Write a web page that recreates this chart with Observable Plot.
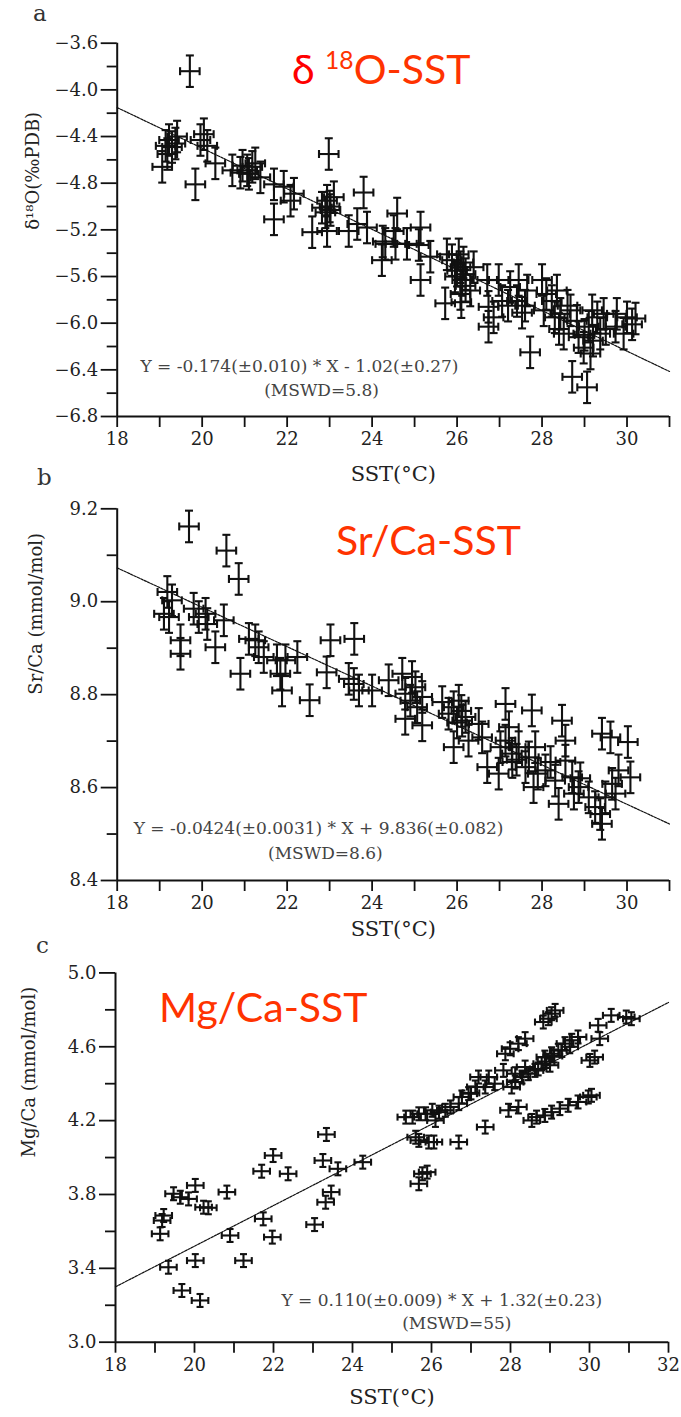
<!DOCTYPE html>
<html><head><meta charset="utf-8">
<script src="https://cdn.jsdelivr.net/npm/d3@7"></script>
<script src="https://cdn.jsdelivr.net/npm/@observablehq/plot@0.6"></script>
<style>
body{margin:0;background:#fff;}
#fig{position:relative;width:681px;height:1417px;overflow:hidden;background:#fff;}
#fig svg{display:block;}
#fig svg text{font-family:"DejaVu Serif",serif;}
.letter{position:absolute;font-family:"DejaVu Serif",serif;font-size:23px;color:#333;line-height:1;}
.ttl{position:absolute;font-family:Lato,"Open Sans",sans-serif;font-size:41px;color:#ff3300;line-height:1;white-space:nowrap;}
.ttl sup{font-size:0.6em;vertical-align:0.6em;line-height:0;}
</style></head><body><div id="fig"></div>
<script>
// ---------- Panel a : δ18O vs SST ----------
const sstA = [19.06,19.14,19.18,19.22,19.29,19.37,19.41,19.71,19.84,19.96,20.04,20.12,20.31,20.71,20.90,20.95,21.06,21.10,21.18,21.25,21.37,21.69,21.69,21.92,22.08,22.16,22.59,22.82,22.90,22.94,23.00,23.02,22.98,22.94,23.10,23.45,23.65,23.80,23.88,
  24.23,24.25,24.31,24.51,24.55,24.59,24.82,25.10,25.14,25.14,25.37,25.72,25.76,25.88,25.95,26.00,26.04,26.08,26.12,26.08,26.15,26.20,26.20,26.10,26.39,26.31,26.71,26.74,26.74,26.86,26.98,27.06,27.20,27.25,27.45,27.41,27.53,27.60,27.65,27.72,
  28.00,28.04,28.10,28.23,28.30,28.35,28.40,28.43,28.51,28.60,28.67,28.71,28.82,28.86,28.98,29.00,29.06,29.10,29.14,29.18,29.20,29.30,29.37,29.45,29.50,29.73,29.76,29.92,30.00,30.12,30.20];
const d18O = [-4.66,-4.48,-4.55,-4.43,-4.49,-4.46,-4.40,-3.84,-4.81,-4.43,-4.38,-4.48,-4.63,-4.69,-4.71,-4.65,-4.69,-4.72,-4.66,-4.63,-4.75,-5.11,-4.81,-4.83,-4.95,-4.89,-5.22,-5.01,-5.05,-4.95,-5.00,-5.03,-4.55,-5.21,-4.92,-5.21,-5.15,-4.88,-5.18,
  -5.46,-5.30,-5.32,-5.21,-5.32,-5.06,-5.32,-5.33,-5.18,-5.63,-5.43,-5.83,-5.41,-5.46,-5.60,-5.55,-5.41,-5.52,-5.63,-5.75,-5.48,-5.58,-5.68,-5.82,-5.52,-5.72,-5.63,-5.86,-6.03,-5.95,-5.63,-5.81,-5.85,-5.69,-5.63,-5.81,-5.91,-5.85,-5.72,-6.25,
  -5.63,-5.89,-5.75,-5.81,-5.95,-5.72,-6.05,-5.92,-6.09,-5.85,-5.89,-6.46,-5.98,-6.12,-6.21,-6.10,-6.55,-6.03,-6.26,-5.89,-6.15,-5.95,-6.09,-5.92,-6.05,-6.03,-5.92,-6.09,-5.95,-6.01,-5.96];
const errA = {sst: 0.23, val: 0.135};
const fitA = {slope: -0.174, intercept: -1.02};
const eqA = ["Y = -0.174(±0.010) * X - 1.02(±0.27)", "(MSWD=5.8)"];
const yMajorA = [-6.8,-6.4,-6.0,-5.6,-5.2,-4.8,-4.4,-4.0,-3.6];
const yMinorA = [-6.6,-6.2,-5.8,-5.4,-5.0,-4.6,-4.2,-3.8];

// ---------- Panel b : Sr/Ca vs SST ----------
const sstB = [19.69,20.57,20.86,19.18,19.10,19.22,19.29,19.49,19.49,19.80,19.92,20.08,20.12,20.31,20.51,20.90,21.10,21.25,21.33,21.45,21.76,21.84,21.88,21.96,22.24,22.53,22.93,23.02,23.58,23.45,23.57,23.69,24.00,24.39,
  24.71,24.78,24.94,25.02,24.90,24.78,25.18,25.06,25.18,25.65,25.80,25.92,26.04,26.12,25.92,26.27,26.20,26.00,26.10,26.51,26.59,26.71,26.98,27.02,27.14,27.14,27.22,27.29,27.30,27.45,27.40,27.61,27.76,27.69,27.84,27.80,27.90,
  28.08,28.20,28.31,28.39,28.47,28.55,28.55,28.71,28.75,28.86,28.90,29.10,29.25,29.41,29.37,29.41,29.61,29.49,29.65,29.73,29.80,30.02,30.08];
const srCa = [9.162,9.110,9.049,9.021,8.974,8.967,9.003,8.917,8.888,8.985,8.967,8.974,8.952,8.902,8.960,8.845,8.920,8.917,8.902,8.881,8.874,8.845,8.809,8.874,8.881,8.788,8.848,8.917,8.920,8.834,8.823,8.809,8.809,8.831,
  8.845,8.802,8.838,8.816,8.787,8.748,8.734,8.773,8.795,8.784,8.759,8.773,8.787,8.744,8.687,8.701,8.752,8.740,8.765,8.737,8.708,8.644,8.630,8.687,8.780,8.701,8.730,8.673,8.655,8.687,8.660,8.644,8.766,8.665,8.687,8.601,8.630,
  8.637,8.655,8.615,8.565,8.744,8.701,8.658,8.622,8.587,8.601,8.620,8.579,8.558,8.522,8.543,8.716,8.708,8.579,8.608,8.587,8.637,8.698,8.622];
const errB = {sst: 0.23, val: 0.034};
const fitB = {slope: -0.0424, intercept: 9.836};
const eqB = ["Y = -0.0424(±0.0031) * X + 9.836(±0.082)", "(MSWD=8.6)"];
const yMajorB = [8.4,8.6,8.8,9.0,9.2];
const yMinorB = [8.5,8.7,8.9,9.1];

// ---------- Panel c : Mg/Ca vs SST ----------
const sstC = [19.13,19.18,19.22,19.34,19.47,19.64,19.68,19.85,20.02,20.02,20.14,20.23,20.35,20.82,20.90,21.24,21.70,21.74,21.99,21.97,22.37,23.04,23.34,23.25,23.32,23.46,23.63,24.26,
  25.35,25.52,25.68,25.85,26.02,26.19,26.10,26.35,26.48,26.69,26.77,26.94,27.00,27.11,27.19,27.36,27.45,27.60,27.82,27.87,27.99,28.20,28.37,28.03,28.12,28.12,28.29,28.37,28.45,28.62,28.70,28.79,28.87,28.90,29.00,29.04,29.10,29.21,29.30,29.38,29.50,29.55,29.71,
  28.83,28.96,29.04,29.13,30.22,30.26,30.55,30.93,31.06,30.01,30.13,
  25.60,25.68,25.93,26.06,26.69,27.36,25.68,25.77,25.89,
  27.95,28.20,28.54,28.66,28.87,29.04,29.25,29.46,29.71,29.97,30.05];
const mgCa = [3.587,3.659,3.686,3.406,3.804,3.785,3.280,3.776,3.849,3.442,3.226,3.731,3.728,3.813,3.578,3.442,3.926,3.668,4.011,3.569,3.912,3.637,4.125,3.984,3.758,3.813,3.939,3.975,
  4.219,4.219,4.237,4.237,4.256,4.246,4.201,4.256,4.274,4.292,4.328,4.346,4.350,4.382,4.436,4.382,4.436,4.400,4.472,4.562,4.589,4.617,4.644,4.382,4.409,4.454,4.436,4.490,4.454,4.472,4.480,4.508,4.544,4.520,4.500,4.562,4.550,4.581,4.580,4.617,4.600,4.635,4.653,
  4.734,4.752,4.779,4.797,4.716,4.644,4.770,4.761,4.752,4.526,4.544,
  4.110,4.093,4.084,4.084,4.084,4.165,3.858,3.912,3.921,
  4.256,4.274,4.201,4.219,4.228,4.246,4.265,4.283,4.301,4.328,4.337];
const errC = {sst: 0.21, val: 0.035};
const fitC = {slope: 0.110, intercept: 1.32};
const eqC = ["Y = 0.110(±0.009) * X + 1.32(±0.23)", "(MSWD=55)"];
const yMajorC = [3.0,3.4,3.8,4.2,4.6,5.0];
const yMinorC = [3.2,3.6,4.0,4.4,4.8];

const xMajor = [18,20,22,24,26,28,30,32];
const xMinor = [19,21,23,25,27,29,31];
const xTitle = "SST(°C)";

// ---------- helpers ----------
const ink = "#111";
const serif = "'DejaVu Serif', serif";
const hbar = {draw(ctx, size){ const w = Math.sqrt(size/Math.PI); ctx.moveTo(-w,0); ctx.lineTo(w,0);} };
const vbar = {draw(ctx, size){ const w = Math.sqrt(size/Math.PI); ctx.moveTo(0,-w); ctx.lineTo(0,w);} };

function crosses(xs, ys, err, cap, sw) {
  const data = xs.map((x,i) => ({x, y: ys[i]}));
  const s = {stroke: ink, strokeWidth: sw};
  return [
    Plot.link(data, {x1: d => d.x - err.sst, x2: d => d.x + err.sst, y1: "y", y2: "y", ...s}),
    Plot.link(data, {x1: "x", x2: "x", y1: d => d.y - err.val, y2: d => d.y + err.val, ...s}),
    Plot.dot(data, {x: d => d.x - err.sst, y: "y", symbol: vbar, r: cap, fill: "none", ...s}),
    Plot.dot(data, {x: d => d.x + err.sst, y: "y", symbol: vbar, r: cap, fill: "none", ...s}),
    Plot.dot(data, {x: "x", y: d => d.y - err.val, symbol: hbar, r: cap, fill: "none", ...s}),
    Plot.dot(data, {x: "x", y: d => d.y + err.val, symbol: hbar, r: cap, fill: "none", ...s})
  ];
}

function panel(o) {
  const [x0, x1] = o.xDomain, [y0, y1] = o.yDomain;
  const ax = {fontFamily: serif, fontSize: 18, strokeWidth: 1.8, fill: "#222", stroke: ink, label: null};
  return Plot.plot({
    width: 681, height: o.height,
    marginTop: o.mt, marginBottom: o.mb, marginLeft: o.ml, marginRight: o.mr,
    x: {domain: o.xDomain}, y: {domain: o.yDomain},
    style: {fontFamily: serif, fontSize: "18px", color: "#222", background: "white", overflow: "visible"},
    marks: [
      Plot.axisX({ticks: xMinor.filter(t => t <= x1), tickSize: 11, tickFormat: () => "", ...ax}),
      Plot.axisX({ticks: xMajor.filter(t => t <= x1), tickSize: 11, tickPadding: 5, tickFormat: d3.format("d"), ...ax}),
      Plot.axisY({ticks: o.yMinor, tickSize: 10, tickFormat: () => "", ...ax}),
      Plot.axisY({ticks: o.yMajor, tickSize: 16, tickPadding: 3, tickFormat: d3.format(".1f"), ...ax}),
      Plot.text([xTitle], {frameAnchor: "bottom", dy: o.xTitleDy, fontSize: 21, fontFamily: serif, fill: "#222"}),
      Plot.text([o.yLabel], {frameAnchor: "left", dx: o.yTitleDx, rotate: -90, fontSize: 18, fontFamily: serif, fill: "#222"}),
      Plot.ruleX([x0], {stroke: ink, strokeWidth: 2}),
      Plot.ruleY([y0], {stroke: ink, strokeWidth: 2}),
      Plot.line([x0, x1], {x: d => d, y: d => o.fit.slope * d + o.fit.intercept, stroke: ink, strokeWidth: 1.2, strokeDasharray: "2.5,1.2"}),
      ...crosses(o.xs, o.ys, o.err, o.cap, 2.1),
      Plot.text([o.eq[0]], {x: o.eqPos[0], y: o.eqPos[1], fontSize: 17, fontFamily: serif, fill: "#444"}),
      Plot.text([o.eq[1]], {x: o.eqPos[2], y: o.eqPos[3], fontSize: 17, fontFamily: serif, fill: "#444"})
    ]
  });
}

const fig = document.getElementById("fig");
fig.append(panel({height: 492, mt: 42.7, mb: 76, ml: 116.7, mr: 12,
  xDomain: [18, 31], yDomain: [-6.8, -3.6], yMajor: yMajorA, yMinor: yMinorA,
  yLabel: "δ¹⁸O(‰PDB)", yTitleDx: -84, xTitleDy: 64,
  xs: sstA, ys: d18O, err: errA, cap: 4, fit: fitA, eq: eqA, eqPos: [22.29, -6.37, 22.81, -6.575]}));
fig.append(panel({height: 453, mt: 16.3, mb: 65, ml: 116.7, mr: 12,
  xDomain: [18, 31], yDomain: [8.4, 9.2], yMajor: yMajorB, yMinor: yMinorB,
  yLabel: "Sr/Ca (mmol/mol)", yTitleDx: -81, xTitleDy: 55,
  xs: sstB, ys: srCa, err: errB, cap: 4, fit: fitB, eq: eqB, eqPos: [22.74, 8.512, 22.9, 8.458]}));
fig.append(panel({height: 472, mt: 27.4, mb: 75.3, ml: 115, mr: 13,
  xDomain: [18, 32], yDomain: [3.0, 5.0], yMajor: yMajorC, yMinor: yMinorC,
  yLabel: "Mg/Ca (mmol/mol)", yTitleDx: -86, xTitleDy: 62,
  xs: sstC, ys: mgCa, err: errC, cap: 3.5, fit: fitC, eq: eqC, eqPos: [26.26, 3.226, 26.64, 3.10]}));

// panel letters and red titles
function addDiv(cls, html, left, top) {
  const d = document.createElement("div");
  d.className = cls; d.innerHTML = html;
  d.style.left = left + "px"; d.style.top = top + "px";
  fig.append(d);
}
addDiv("letter", "a", 33, 2);
addDiv("letter", "b", 37, 466);
addDiv("letter", "c", 36, 934);
addDiv("ttl", '<span style="color:#ff0000">δ</span> <sup>18</sup>O-SST', 292, 48);
addDiv("ttl", "Sr/Ca-SST", 336, 519);
addDiv("ttl", "Mg/Ca-SST", 159, 986);
</script></body></html>
